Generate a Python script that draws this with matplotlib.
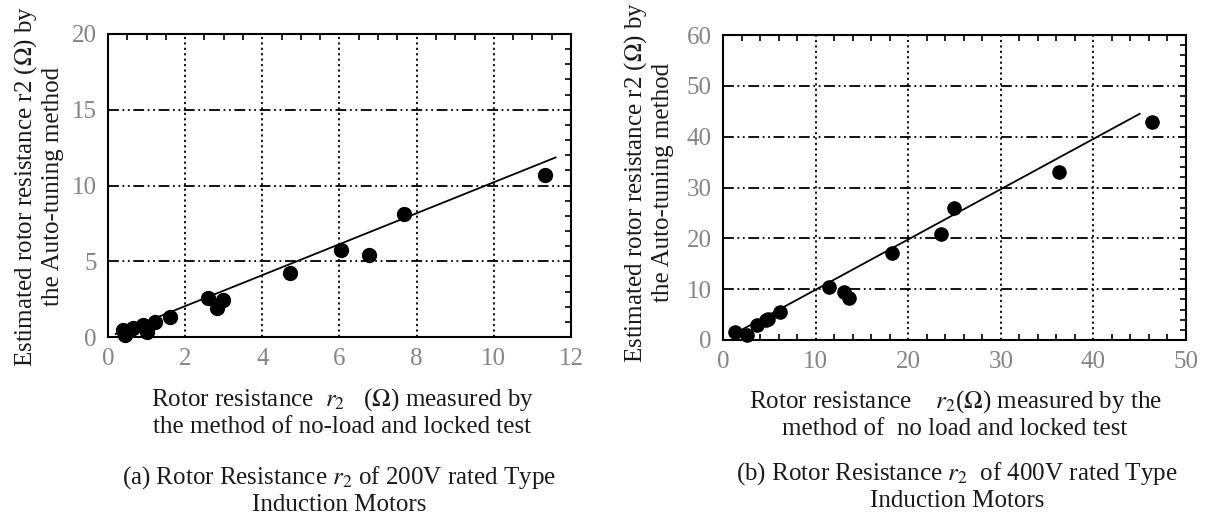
import matplotlib
matplotlib.use("Agg")
import matplotlib.pyplot as plt
from matplotlib.ticker import MultipleLocator

plt.rcParams['font.family'] = ['Liberation Serif', 'DejaVu Serif']
plt.rcParams['mathtext.fontset'] = 'stix'

# ---- data: (a) 200V motors ----
x_a = [0.44, 0.40, 0.66, 0.92, 1.00, 1.22, 1.61, 2.60, 2.99, 2.82, 4.73, 6.03, 6.76, 7.67, 11.32]
y_a = [0.13, 0.46, 0.57, 0.80, 0.35, 1.00, 1.35, 2.56, 2.45, 1.90, 4.20, 5.76, 5.43, 8.12, 10.68]
line_a_x = [0.2, 11.6]
line_a_y = [0.2, 11.85]

# ---- data: (b) 400V motors ----
x_b = [1.3, 2.6, 3.7, 4.6, 4.9, 6.2, 11.4, 13.1, 13.6, 18.2, 23.5, 24.9, 36.3, 46.3]
y_b = [1.6, 1.0, 3.0, 3.9, 4.2, 5.6, 10.5, 9.5, 8.2, 17.1, 20.9, 25.9, 33.1, 42.8]
line_b_x = [1.0, 45.0]
line_b_y = [1.0, 44.5]

xticks_a = [0, 2, 4, 6, 8, 10, 12]
yticks_a = [0, 5, 10, 15, 20]
xticks_b = [0, 10, 20, 30, 40, 50]
yticks_b = [0, 10, 20, 30, 40, 50, 60]

W, H = 1214, 515
fig = plt.figure(figsize=(W / 100, H / 100), dpi=100)

def box(l, t, r, b):
    return [l / W, 1 - b / H, (r - l) / W, (b - t) / H]

ax1 = fig.add_axes(box(108, 34, 571, 337))
ax2 = fig.add_axes(box(723, 35, 1186, 340))

hdash = (0, (6, 2, 1, 2, 1, 2))
vdash = (0, (1.2, 1.8))
tick_col = '#858585'
txt_col = '#1a1a1a'

def style(ax, xt, yt, xlim, ylim, top_minor, right_minor, bottom_minor):
    ax.set_xlim(*xlim)
    ax.set_ylim(*ylim)
    ax.set_xticks(xt)
    ax.set_yticks(yt)
    for sp in ax.spines.values():
        sp.set_linewidth(1.5)
        sp.set_color('black')
    ax.tick_params(axis='both', which='major', direction='in', length=0,
                   labelsize=18, labelcolor=tick_col, pad=8)
    for xv in xt[1:-1]:
        ax.axvline(xv, color='black', lw=1.3, linestyle=vdash, zorder=1)
    for yv in yt[1:-1]:
        ax.axhline(yv, color='black', lw=1.3, linestyle=hdash, zorder=1)
    ax.xaxis.set_minor_locator(MultipleLocator(top_minor))
    ax.yaxis.set_minor_locator(MultipleLocator(right_minor))
    ax.tick_params(which='minor', direction='in', length=4, width=1.2,
                   top=True, right=True, bottom=bottom_minor, left=False)

style(ax1, xticks_a, yticks_a, (0, 12), (0, 20), 0.5, 1, False)
style(ax2, xticks_b, yticks_b, (0, 50), (0, 60), 2, 2, True)

ax1.plot(line_a_x, line_a_y, color='black', lw=1.3, zorder=2)
ax1.plot(x_a, y_a, 'o', color='black', ms=10, zorder=3, clip_on=False)
ax2.plot(line_b_x, line_b_y, color='black', lw=1.3, zorder=2)
ax2.plot(x_b, y_b, 'o', color='black', ms=9.5, zorder=3, clip_on=False)

fs = 18
# (a) labels
fig.text(38 / W, 1 - 186 / H,
         "Estimated rotor resistance r2 ($\\Omega$) by\nthe Auto-tuning method",
         rotation=90, ha='center', va='center', fontsize=fs, color=txt_col,
         linespacing=1.15)
fig.text(342 / W, 1 - 412 / H,
         "Rotor resistance  $r_2$   ($\\Omega$) measured by\nthe method of no-load and locked test",
         ha='center', va='center', fontsize=fs, color=txt_col, linespacing=1.2)
fig.text(339 / W, 1 - 490 / H,
         "(a) Rotor Resistance $r_2$ of 200V rated Type\nInduction Motors",
         ha='center', va='center', fontsize=fs, color=txt_col, linespacing=1.15)

# (b) labels
fig.text(648 / W, 1 - 182 / H,
         "Estimated rotor resistance r2 ($\\Omega$) by\nthe Auto-tuning method",
         rotation=90, ha='center', va='center', fontsize=fs, color=txt_col,
         linespacing=1.15)
fig.text(955 / W, 1 - 414 / H,
         "Rotor resistance    $r_2$($\\Omega$) measured by the\nmethod of  no load and locked test",
         ha='center', va='center', fontsize=fs, color=txt_col, linespacing=1.2)
fig.text(957 / W, 1 - 486 / H,
         "(b) Rotor Resistance $r_2$  of 400V rated Type\nInduction Motors",
         ha='center', va='center', fontsize=fs, color=txt_col, linespacing=1.15)

fig.savefig("out.png", dpi=100)
